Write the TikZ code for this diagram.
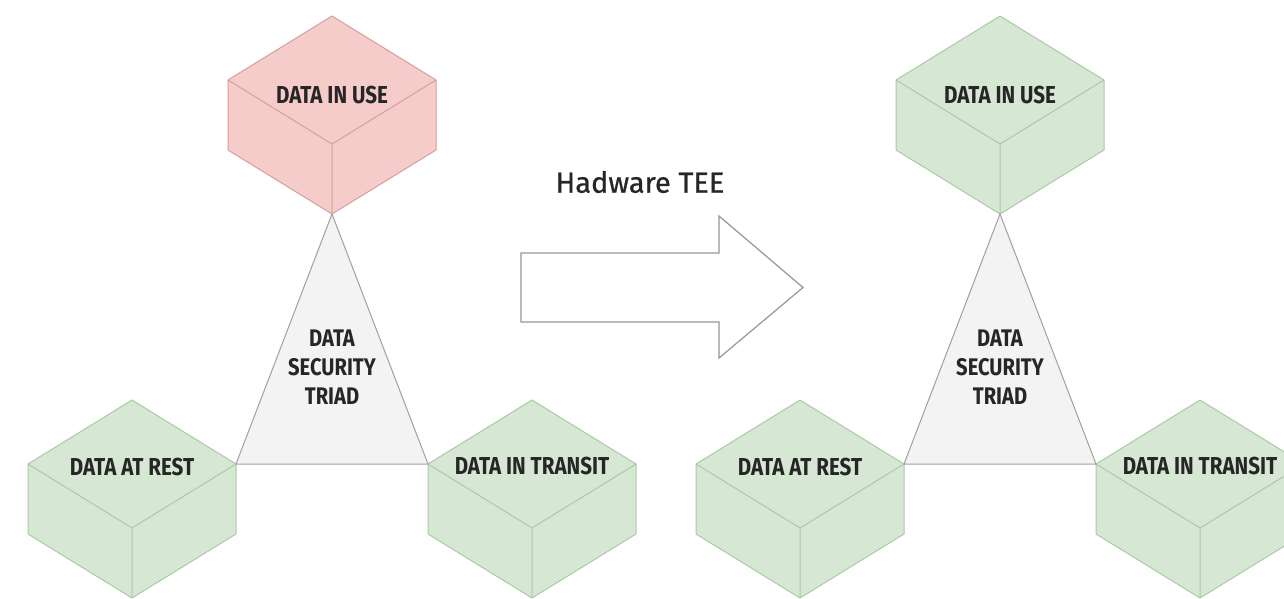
\documentclass[tikz,border=0pt]{standalone}
\usepackage{fontspec}
\setmainfont{Fira Sans}
\newfontfamily\teefont{Fira Sans}[FakeBold=0.7]
\definecolor{usefill}{RGB}{246,204,203}
\definecolor{useline}{RGB}{214,158,158}
\definecolor{okfill}{RGB}{214,232,212}
\definecolor{okline}{RGB}{170,202,166}
\definecolor{trifill}{RGB}{243,243,244}
\definecolor{triline}{RGB}{160,160,160}
\definecolor{ink}{RGB}{38,38,38}
\definecolor{arrowline}{RGB}{150,150,150}

\tikzset{
  cubelabel/.style={font=\bfseries\fontsize{24.5}{24.5}\selectfont, text=ink, inner sep=0pt},
  triadlabel/.style={font=\bfseries\fontsize{24}{29}\selectfont, text=ink, align=center, inner sep=0pt},
  triadface/.style={fill=trifill, draw=triline, line width=1pt, line join=round},
  teearrow/.style={fill=white, draw=arrowline, line width=1.2pt, line join=miter},
  teelabel/.style={font=\teefont\fontsize{29}{29}\selectfont, text=ink, inner sep=0pt},
}

% isometric box: #1 centre x, #2 top y, #3 fill, #4 edge colour, #5 name, #6 label y, #7 text
\newcommand\isobox[7]{%
  \begin{scope}[shift={(#1,#2)}]
    \filldraw[fill=#3, draw=#4, line width=1pt, line join=round]
      (0,0) -- (104,64) -- (104,134) -- (0,198) -- (-104,134) -- (-104,64) -- cycle;
    \draw[#4, line width=1pt] (-104,64) -- (0,128) -- (104,64) (0,128) -- (0,198);
    \coordinate (#5-bot) at (0,198);
    \coordinate (#5-left) at (-104,64);
    \coordinate (#5-right) at (104,64);
    \node[cubelabel] (#5-text) at (0,#6) {\scalebox{0.84}[1]{#7}};
  \end{scope}}

\begin{document}
\begin{tikzpicture}[x=1pt, y=-1pt]
  \path[use as bounding box] (0,0) rectangle (1284,599);
  \clip (0,0) rectangle (1284,599);

  % ---- before: data in use unprotected ----
  \isobox{332}{16}{usefill}{useline}{useA}{79}{DATA IN USE}
  \isobox{132}{400}{okfill}{okline}{restA}{67}{DATA AT REST}
  \isobox{532}{400}{okfill}{okline}{transitA}{66}{DATA IN TRANSIT}
  \draw[triadface] (useA-bot) -- (restA-right) -- (transitA-left) -- cycle;
  \node[triadlabel] (triadA) at (332,367) {\scalebox{0.84}[1]{DATA}\\\scalebox{0.84}[1]{SECURITY}\\\scalebox{0.84}[1]{TRIAD}};

  % ---- hardware TEE arrow ----
  \draw[teearrow] (521,253) -- (719,253) -- (719,216) -- (803,287.5)
    -- (719,358) -- (719,322) -- (521,322) -- cycle;
  \node[teelabel] (tee) at (640,182) {Hadware TEE};

  % ---- after: all three protected ----
  \isobox{1000}{16}{okfill}{okline}{useB}{79}{DATA IN USE}
  \isobox{800}{400}{okfill}{okline}{restB}{67}{DATA AT REST}
  \isobox{1200}{400}{okfill}{okline}{transitB}{66}{DATA IN TRANSIT}
  \draw[triadface] (useB-bot) -- (restB-right) -- (transitB-left) -- cycle;
  \node[triadlabel] (triadB) at (1000,367) {\scalebox{0.84}[1]{DATA}\\\scalebox{0.84}[1]{SECURITY}\\\scalebox{0.84}[1]{TRIAD}};
\end{tikzpicture}
\end{document}
